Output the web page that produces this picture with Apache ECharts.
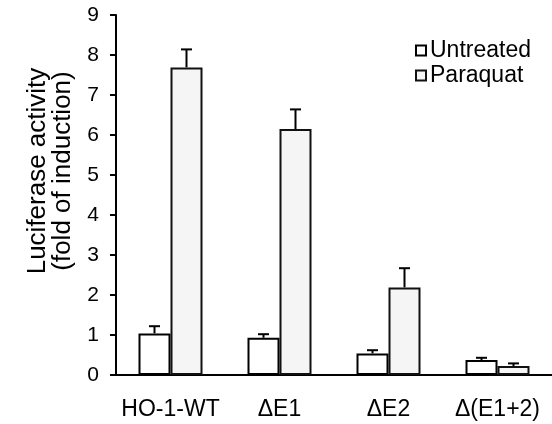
<!DOCTYPE html>
<html>
<head>
<meta charset="utf-8">
<script src="https://cdn.jsdelivr.net/npm/echarts@6/dist/echarts.min.js"></script>
<style>
	html, body { margin: 0; padding: 0; background: #fff; }
	#chart { width: 552px; height: 424px; }
</style>
</head>
<body>
<div id="chart"></div>
<script>
// 数据
var categories = ['HO-1-WT', 'ΔE1', 'ΔE2', 'Δ(E1+2)'];
var untreated = [1.04, 0.93, 0.54, 0.375];
var paraquat = [7.69, 6.15, 2.19, 0.225];
var untreatedErr = [0.18, 0.09, 0.08, 0.055];
var paraquatErr = [0.45, 0.49, 0.48, 0.065];
var yTicks = [0, 1, 2, 3, 4, 5, 6, 7, 8, 9];
var yTitle = 'Luciferase activity\n(fold of induction)';

var FONT = "'Liberation Sans', Arial, sans-serif";
var BAR_W = 32;

// 误差线 (只画上半部分)
function errorSeries(name, values, errs, side) {
	return {
		name: name + '-err',
		type: 'custom',
		silent: true,
		z: 1,
		data: values.map(function(v, i) { return [i, v, v + errs[i]]; }),
		renderItem: function(params, api) {
			var i = api.value(0);
			var base = api.coord([i, api.value(1)]);
			var top = api.coord([i, api.value(2)]);
			var x = base[0] + side * BAR_W / 2;
			var cap = 5.5;
			var style = { stroke: '#000', lineWidth: 2 };
			return {
				type: 'group',
				children: [
					{ type: 'line', shape: { x1: x, y1: base[1], x2: x, y2: top[1] }, style: style },
					{ type: 'line', shape: { x1: x - cap, y1: top[1], x2: x + cap, y2: top[1] }, style: style }
				]
			};
		}
	};
}

var myChart = echarts.init(document.getElementById('chart'));
var option = {
	backgroundColor: '#fff',
	animation: false,
	textStyle: { fontFamily: FONT, color: '#000' },
	grid: { left: 116, right: -2, top: 15, bottom: 49, containLabel: false },
	// y 轴标题 (位置偏上, 用 graphic 放置)
	graphic: [{
		type: 'text',
		x: 50,
		y: 171,
		rotation: Math.PI / 2,
		style: {
			text: yTitle,
			font: '26px ' + FONT,
			lineHeight: 25,
			fill: '#000',
			align: 'center',
			verticalAlign: 'middle'
		}
	}],
	legend: {
		orient: 'vertical',
		left: 410,
		top: 34,
		itemWidth: 10,
		itemHeight: 10,
		itemGap: 2,
		icon: 'rect',
		data: ['Untreated', 'Paraquat'],
		textStyle: { fontSize: 23, color: '#000', fontFamily: FONT, padding: [0, 0, 0, -1] }
	},
	xAxis: {
		type: 'category',
		data: categories,
		axisLine: { lineStyle: { color: '#000', width: 2 } },
		axisTick: { show: false },
		axisLabel: { color: '#000', fontSize: 23, margin: 23, interval: 0, fontFamily: FONT }
	},
	yAxis: {
		type: 'value',
		min: yTicks[0],
		max: yTicks[yTicks.length - 1],
		interval: 1,
		splitLine: { show: false },
		axisLine: { show: true, lineStyle: { color: '#000', width: 2 } },
		axisTick: { show: true, length: 6, lineStyle: { color: '#000', width: 2 } },
		axisLabel: { color: '#000', fontSize: 21, margin: 17, fontFamily: FONT }
	},
	series: [
		{
			name: 'Untreated',
			type: 'bar',
			data: untreated,
			barWidth: BAR_W,
			barGap: '0%',
			z: 2,
			itemStyle: { color: '#fff', borderColor: '#000', borderWidth: 2 }
		},
		{
			name: 'Paraquat',
			type: 'bar',
			data: paraquat,
			barWidth: BAR_W,
			barGap: '0%',
			z: 2,
			itemStyle: { color: '#f5f5f5', borderColor: '#111', borderWidth: 2 }
		},
		errorSeries('Untreated', untreated, untreatedErr, -1),
		errorSeries('Paraquat', paraquat, paraquatErr, 1)
	]
};
myChart.setOption(option);
</script>
</body>
</html>
